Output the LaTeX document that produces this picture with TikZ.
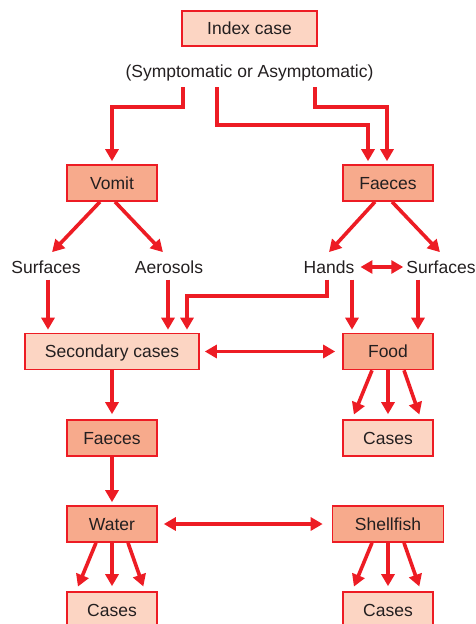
\documentclass[tikz,border=0pt]{standalone}
\usepackage{fontspec}
\setmainfont{Liberation Sans}
\usetikzlibrary{arrows.meta, positioning}

\definecolor{boxRed}{RGB}{237,28,36}
\definecolor{darkFill}{RGB}{247,170,140}
\definecolor{lightFill}{RGB}{252,213,195}
\definecolor{inkGray}{RGB}{35,31,32}

\begin{document}
\begin{tikzpicture}[
        x=1pt, y=1pt,
        on grid,
        font=\fontsize{17.5}{21}\selectfont,
        text=inkGray,
        darkBox/.style={rectangle, draw=boxRed, line width=1.6pt, fill=darkFill, minimum width=90pt, minimum height=36pt, inner sep=0pt, text height=12.5pt, text depth=0pt},
        lightBox/.style={darkBox, fill=lightFill},
        labelNode/.style={inner xsep=3pt, inner ysep=6pt, text height=13pt, text depth=0pt},
        arrow/.style={-{Triangle[length=12pt, width=13pt]}, line width=3.6pt, draw=boxRed, shorten >=3pt},
        dblArrow/.style={arrow, {Triangle[length=12pt, width=13pt]}-{Triangle[length=12pt, width=13pt]}, shorten >=0pt}
    ]
        \useasboundingbox (0,0) rectangle (475,-624);

        \node[lightBox, minimum width=135pt, minimum height=35pt] (index) at (249.5,-28.5) {Index case};
        \node[labelNode, text depth=4pt, below=44pt of index] (status) {(Symptomatic or Asymptomatic)};
        \node[darkBox] (vomit) at (112,-183) {Vomit};
        \node[darkBox, right=276pt of vomit] (faecesTop) {Faeces};
        \node[labelNode, below left=84pt and 66pt of vomit] (surfVomit) {Surfaces};
        \node[labelNode, below right=84pt and 57pt of vomit] (aerosols) {Aerosols};
        \node[labelNode, below left=84pt and 59pt of faecesTop] (hands) {Hands};
        \node[labelNode, below right=84pt and 53pt of faecesTop] (surfFaeces) {Surfaces};
        \node[lightBox, minimum width=174pt, below=168.5pt of vomit] (secondary) {Secondary cases};
        \node[darkBox, below=168.5pt of faecesTop] (food) {Food};
        \node[darkBox, below=86.5pt of secondary] (faecesLow) {Faeces};
        \node[lightBox, below=86.5pt of food] (casesFood) {Cases};
        \node[darkBox, below=86pt of faecesLow] (water) {Water};
        \node[darkBox, minimum width=111pt, below=86pt of casesFood] (shellfish) {Shellfish};
        \node[lightBox, below=86pt of water] (casesWater) {Cases};
        \node[lightBox, below=86pt of shellfish] (casesShell) {Cases};

        \draw[arrow] ([xshift=-66.5pt]status.south) -- ++(0,-20) -| (vomit.north);
        \draw[arrow] ([xshift=-32.5pt]status.south) -- ++(0,-38) -| ([xshift=-20pt]faecesTop.north);
        \draw[arrow] ([xshift=65.5pt]status.south) -- ++(0,-20) -| ([xshift=-1pt]faecesTop.north);

        \draw[arrow] ([xshift=-12pt]vomit.south) -- ([xshift=4pt]surfVomit.north);
        \draw[arrow] ([xshift=3pt]vomit.south) -- ([xshift=-4pt]aerosols.north);
        \draw[arrow] ([xshift=-13pt]faecesTop.south) -- ([xshift=-2pt]hands.north);
        \draw[arrow] ([xshift=4pt]faecesTop.south) -- ([xshift=1pt]surfFaeces.north);
        \draw[dblArrow, shorten <=3pt] (hands) -- (surfFaeces);

        \draw[arrow] ([xshift=2pt]surfVomit.south) -- ([xshift=-64pt]secondary.north);
        \draw[arrow] ([xshift=-1pt]aerosols.south) -- ([xshift=56pt]secondary.north);
        \draw[arrow] ([xshift=-2pt]hands.south) -- ++(0,-16) -| ([xshift=75pt]secondary.north);
        \draw[arrow] ([xshift=23pt]hands.south) -- ([xshift=-36pt]food.north);
        \draw[arrow] ([xshift=-23pt]surfFaeces.south) -- ([xshift=30pt]food.north);

        \draw[dblArrow, shorten <=5pt, shorten >=7pt] (secondary) -- (food);
        \draw[arrow, shorten >=5pt] (secondary) -- (faecesLow);
        \draw[arrow] (faecesLow) -- (water);
        \draw[dblArrow, shorten <=6pt, shorten >=9pt] (water) -- (shellfish);

        \foreach \from/\to in {-16/-36, 0/0, 16/33} {
            \draw[arrow, shorten >=5pt] ([xshift=\from pt]food.south) -- ([xshift=\to pt]casesFood.north);
            \draw[arrow, shorten >=5pt] ([xshift=\from pt]water.south) -- ([xshift=\to pt]casesWater.north);
            \draw[arrow, shorten >=5pt] ([xshift=\from pt]shellfish.south) -- ([xshift=\to pt]casesShell.north);
        }
\end{tikzpicture}
\end{document}
